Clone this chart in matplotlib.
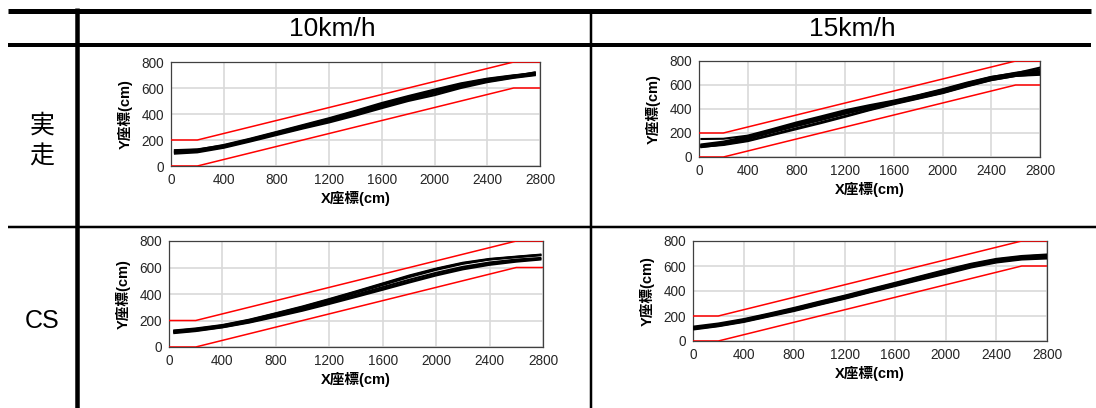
import matplotlib
matplotlib.use('Agg')
import matplotlib.pyplot as plt

plt.rcParams['font.family'] = ['Liberation Sans', 'Noto Sans CJK JP', 'DejaVu Sans']

# ---- data (cm) ----
lane_x = [0, 200, 2600, 2800]
lane_low = [0, 0, 600, 600]
lane_high = [200, 200, 800, 800]

# 実走 10km/h
x_a = [30, 200, 400, 600, 800, 1000, 1200, 1400, 1600, 1800, 2000, 2200, 2400, 2600, 2760]
runs_a = [
    [95, 105, 140, 188, 238, 288, 335, 388, 445, 500, 545, 600, 645, 678, 698],
    [108, 118, 150, 198, 250, 300, 350, 405, 462, 515, 565, 615, 655, 685, 705],
    [122, 128, 158, 206, 258, 310, 362, 420, 478, 532, 582, 630, 668, 695, 718],
    [100, 112, 146, 194, 245, 294, 344, 398, 455, 508, 558, 608, 650, 682, 702],
    [118, 125, 162, 210, 262, 315, 368, 425, 485, 538, 588, 636, 672, 698, 712],
    [110, 120, 152, 200, 252, 302, 355, 412, 468, 522, 572, 622, 660, 690, 720],
]
# 実走 15km/h
x_b = [20, 200, 400, 600, 800, 1000, 1200, 1400, 1600, 1800, 2000, 2200, 2400, 2600, 2800]
runs_b = [
    [150, 152, 178, 232, 288, 338, 390, 432, 470, 515, 565, 620, 668, 698, 745],
    [82, 105, 150, 205, 258, 308, 360, 408, 455, 500, 548, 605, 655, 685, 700],
    [95, 115, 160, 215, 268, 318, 370, 418, 462, 508, 556, 610, 662, 692, 715],
    [88, 105, 138, 188, 240, 290, 342, 395, 445, 490, 535, 592, 642, 676, 685],
    [105, 128, 172, 225, 278, 328, 380, 425, 465, 512, 560, 615, 666, 702, 728],
    [98, 118, 158, 210, 262, 312, 364, 412, 458, 502, 550, 603, 655, 688, 705],
    [85, 100, 132, 182, 232, 282, 335, 390, 440, 486, 532, 588, 640, 675, 692],
]
# CS 10km/h
x_c = [40, 200, 400, 600, 800, 1000, 1200, 1400, 1600, 1800, 2000, 2200, 2400, 2600, 2780]
runs_c = [
    [115, 130, 158, 198, 245, 295, 350, 408, 468, 528, 582, 628, 660, 678, 692],
    [122, 136, 163, 203, 252, 302, 358, 416, 476, 535, 588, 632, 662, 680, 695],
    [110, 124, 150, 188, 234, 280, 332, 385, 440, 495, 548, 594, 628, 650, 665],
    [118, 132, 160, 196, 240, 288, 340, 395, 452, 508, 560, 605, 638, 660, 672],
    [105, 120, 148, 184, 228, 274, 325, 378, 432, 487, 540, 586, 620, 644, 660],
    [125, 140, 166, 206, 255, 306, 362, 420, 480, 540, 592, 636, 665, 682, 697],
]
# CS 15km/h
x_d = [10, 200, 400, 600, 800, 1000, 1200, 1400, 1600, 1800, 2000, 2200, 2400, 2600, 2800]
runs_d = [
    [100, 125, 160, 205, 250, 300, 348, 400, 450, 500, 550, 600, 640, 665, 672],
    [110, 133, 170, 214, 260, 310, 358, 410, 461, 513, 564, 613, 652, 675, 688],
    [93, 118, 152, 196, 240, 290, 338, 390, 440, 490, 538, 588, 628, 652, 660],
    [116, 140, 175, 219, 265, 315, 363, 415, 466, 518, 570, 618, 657, 680, 692],
    [105, 128, 163, 208, 254, 304, 352, 404, 455, 505, 555, 605, 645, 668, 680],
    [98, 121, 156, 200, 245, 294, 342, 394, 445, 495, 544, 594, 634, 658, 666],
]

col_titles = ['10km/h', '15km/h']
row_titles = ['実\n走', 'CS']

W, H = 1096, 408
fig = plt.figure(figsize=(W / 100, H / 100), dpi=100)

# table frame drawn in pixel coords
bg = fig.add_axes([0, 0, 1, 1])
bg.set_xlim(0, W)
bg.set_ylim(H, 0)
bg.axis('off')
k = 0.72  # px -> pt
bg.plot([8, 1091], [10.5, 10.5], color='black', lw=5 * k, solid_capstyle='butt')
bg.plot([8, 1091], [45, 45], color='black', lw=4 * k, solid_capstyle='butt')
bg.plot([8, 1096], [227, 227], color='black', lw=2.5 * k, solid_capstyle='butt')
bg.plot([77, 77], [8, H], color='black', lw=4.5 * k, solid_capstyle='butt')
bg.plot([591, 591], [13, H], color='black', lw=2.5 * k, solid_capstyle='butt')
bg.text(332, 29, col_titles[0], fontsize=19, ha='center', va='center')
bg.text(852, 29, col_titles[1], fontsize=19, ha='center', va='center')
bg.text(42, 141, row_titles[0], fontsize=18, ha='center', va='center', linespacing=1.35)
bg.text(42, 321, row_titles[1], fontsize=18, ha='center', va='center')

# axes boxes in pixels: left, top, right, bottom
boxes = [(171, 62, 540, 166), (699, 61, 1040, 157), (169, 241, 543, 347), (693, 241, 1047, 341)]
panels = [(x_a, runs_a), (x_b, runs_b), (x_c, runs_c), (x_d, runs_d)]

for (l, t, r, b), (xs, runs) in zip(boxes, panels):
    ax = fig.add_axes([l / W, (H - b) / H, (r - l) / W, (b - t) / H])
    ax.plot(lane_x, lane_low, color='red', lw=1.1, zorder=3)
    ax.plot(lane_x, lane_high, color='red', lw=1.1, zorder=3)
    for ys in runs:
        ax.plot(xs, ys, color='black', lw=1.5, zorder=4)
    ax.set_xlim(0, 2800)
    ax.set_ylim(0, 800)
    ax.set_xticks(range(0, 2801, 400))
    ax.set_yticks(range(0, 801, 200))
    ax.grid(color='#d9d9d9', lw=1.2)
    ax.set_axisbelow(True)
    ax.tick_params(length=0, labelsize=9.8, labelcolor='#262626', pad=5)
    for s in ax.spines.values():
        s.set_color('#404040')
        s.set_linewidth(0.9)
    ax.set_xlabel('X座標(cm)', fontsize=10.5, fontweight='bold', labelpad=3)
    ax.set_ylabel('Y座標(cm)', fontsize=10.5, fontweight='bold', labelpad=6)

fig.savefig('out.png', dpi=100)
